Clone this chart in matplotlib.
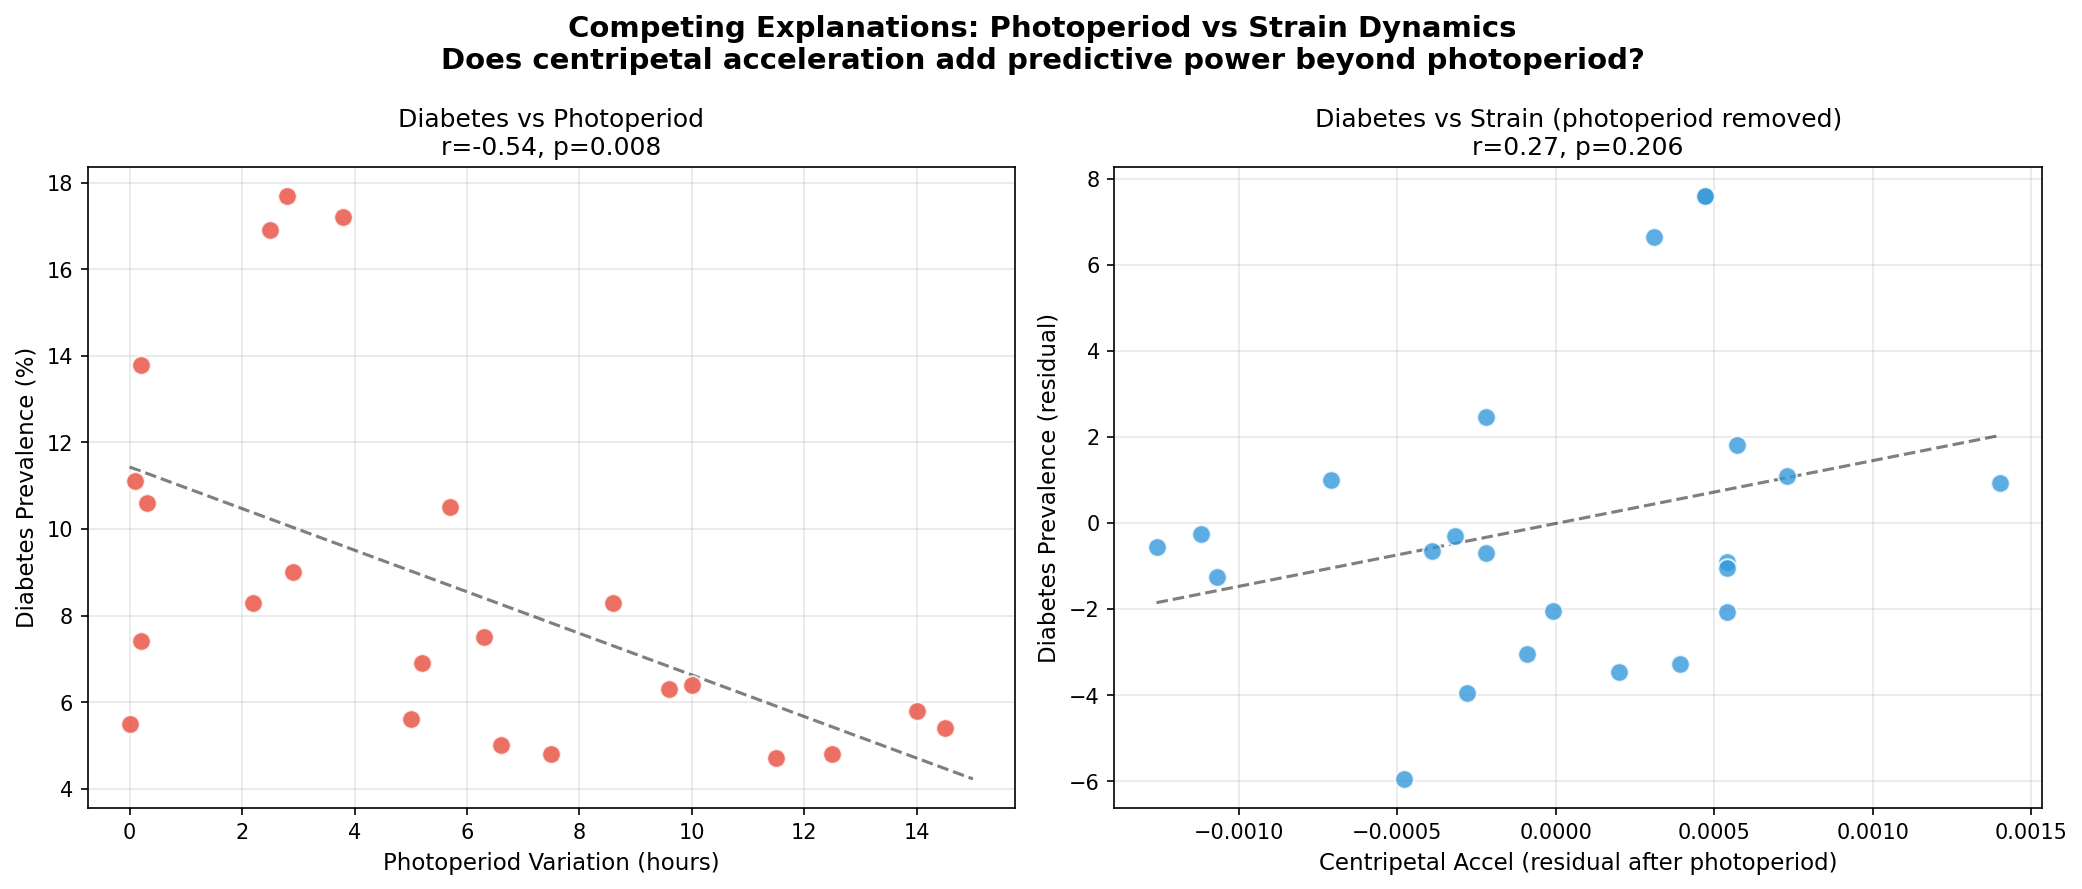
import numpy as np
import matplotlib
matplotlib.use("Agg")
import matplotlib.pyplot as plt

# left panel: photoperiod variation (hours) vs diabetes prevalence (%)
photo_hours = [0.2, 0.1, 0.3, 0.2, 0.0, 2.5, 2.8, 3.8, 2.2, 2.9, 5.7, 5.2,
               5.0, 6.3, 6.6, 7.5, 8.6, 9.6, 10.0, 11.5, 12.5, 14.0, 14.5]
diabetes_pct = [13.8, 11.1, 10.6, 7.4, 5.5, 16.9, 17.7, 17.2, 8.3, 9.0, 10.5, 6.9,
                5.6, 7.5, 5.0, 4.8, 8.3, 6.3, 6.4, 4.7, 4.8, 5.8, 5.4]

# right panel: residual centripetal accel vs residual prevalence
accel_resid = [-0.00126, -0.00112, -0.00107, -0.00071, -0.00039, -0.00032,
               -0.00028, -0.00022, -0.00022, -0.00048, -0.00001, -0.00009,
               0.00020, 0.00031, 0.00039, 0.00047, 0.00047, 0.00054,
               0.00054, 0.00054, 0.00057, 0.00073, 0.00140]
prev_resid = [-0.55, -0.25, -1.25, 1.0, -0.65, -0.3,
              -3.95, 2.47, -0.7, -5.95, -2.05, -3.05,
              -3.47, 6.65, -3.27, 7.6, 7.6, -0.92,
              -1.05, -2.08, 1.8, 1.1, 0.93]

left_title = "Diabetes vs Photoperiod\nr=-0.54, p=0.008"
right_title = "Diabetes vs Strain (photoperiod removed)\nr=0.27, p=0.206"

fig, axes = plt.subplots(1, 2, figsize=(14, 6), dpi=150)

# left
ax = axes[0]
x = np.array(photo_hours)
y = np.array(diabetes_pct)
ax.scatter(x, y, s=80, c='#e74c3c', alpha=0.8, edgecolors='white', linewidths=1, zorder=3)
m, b = np.polyfit(x, y, 1)
xl = np.linspace(0, 15, 100)
ax.plot(xl, m*xl + b, 'k--', alpha=0.5, linewidth=1.5)
ax.set_xlabel('Photoperiod Variation (hours)', fontsize=11)
ax.set_ylabel('Diabetes Prevalence (%)', fontsize=11)
ax.set_title(left_title, fontsize=12)
ax.grid(True, alpha=0.3)

# right
ax = axes[1]
x = np.array(accel_resid)
y = np.array(prev_resid)
ax.scatter(x, y, s=80, c='#3498db', alpha=0.8, edgecolors='white', linewidths=1, zorder=3)
m, b = np.polyfit(x, y, 1)
xl = np.linspace(x.min(), x.max(), 100)
ax.plot(xl, m*xl + b, 'k--', alpha=0.5, linewidth=1.5)
ax.set_xlabel('Centripetal Accel (residual after photoperiod)', fontsize=11)
ax.set_ylabel('Diabetes Prevalence (residual)', fontsize=11)
ax.set_title(right_title, fontsize=12)
ax.grid(True, alpha=0.3)

fig.suptitle('Competing Explanations: Photoperiod vs Strain Dynamics\n'
             'Does centripetal acceleration add predictive power beyond photoperiod?',
             fontsize=14, fontweight='bold')
plt.tight_layout()
# a touch more room under the suptitle
fig.subplots_adjust(top=fig.subplotpars.top - 0.006)
plt.savefig('out.png', dpi=150, bbox_inches='tight')
